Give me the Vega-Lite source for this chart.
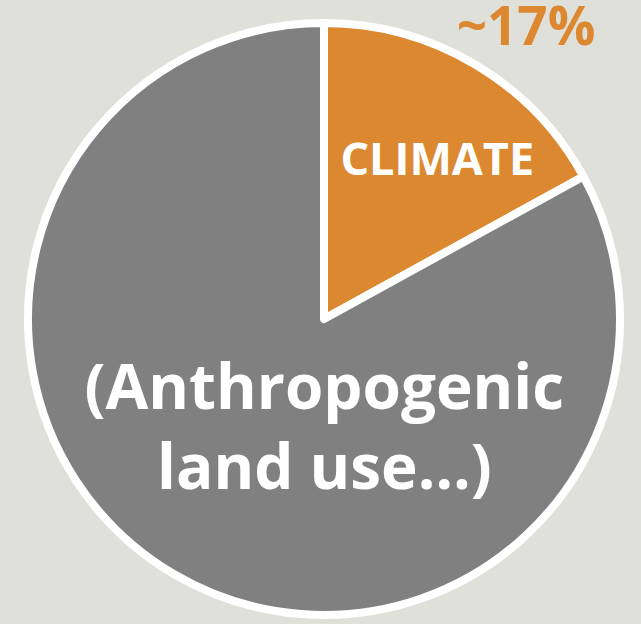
{
  "$schema": "https://vega.github.io/schema/vega-lite/v6.json",
  "width": 634,
  "height": 610,
  "autosize": {"type": "none"},
  "padding": {"left": 7, "right": 0, "top": 14, "bottom": 0},
  "background": "#E0E0DA",
  "config": {"view": {"stroke": null}},
  "data": {
    "values": [
      {"category": "Climate", "share": 17, "order": 1, "label": "CLIMATE", "pct": "~17%"},
      {"category": "Anthropogenic land use", "share": 83, "order": 2, "label": "(Anthropogenic\nland use…)", "pct": ""}
    ]
  },
  "encoding": {
    "theta": {"field": "share", "type": "quantitative", "stack": true},
    "order": {"field": "order", "type": "quantitative"}
  },
  "layer": [
    {
      "mark": {"type": "arc", "outerRadius": 296, "stroke": "white", "strokeWidth": 8, "strokeJoin": "round"},
      "encoding": {
        "color": {
          "field": "category",
          "type": "nominal",
          "scale": {"domain": ["Climate", "Anthropogenic land use"], "range": ["#DC8831", "#808080"]},
          "legend": null
        }
      }
    },
    {
      "mark": {"type": "text", "radius": 195, "dx": 14, "dy": 10, "font": "Open Sans", "fontWeight": "bold", "fontSize": 45, "fill": "white", "align": "center", "baseline": "middle"},
      "encoding": {
        "text": {"condition": {"test": "datum.category === 'Climate'", "field": "label"}, "value": ""}
      }
    },
    {
      "mark": {"type": "text", "radius": 340, "dx": 29, "dy": 3, "font": "Open Sans", "fontWeight": "bold", "fontSize": 53, "fill": "#DC8831", "align": "center", "baseline": "middle"},
      "encoding": {
        "text": {"field": "pct"}
      }
    },
    {
      "mark": {"type": "text", "radius": 127, "dx": 65, "dy": -38, "font": "Open Sans", "fontWeight": "bold", "fontSize": 62, "lineHeight": 80, "lineBreak": "\n", "fill": "white", "align": "center", "baseline": "middle"},
      "encoding": {
        "text": {"condition": {"test": "datum.category !== 'Climate'", "field": "label"}, "value": ""}
      }
    }
  ]
}
